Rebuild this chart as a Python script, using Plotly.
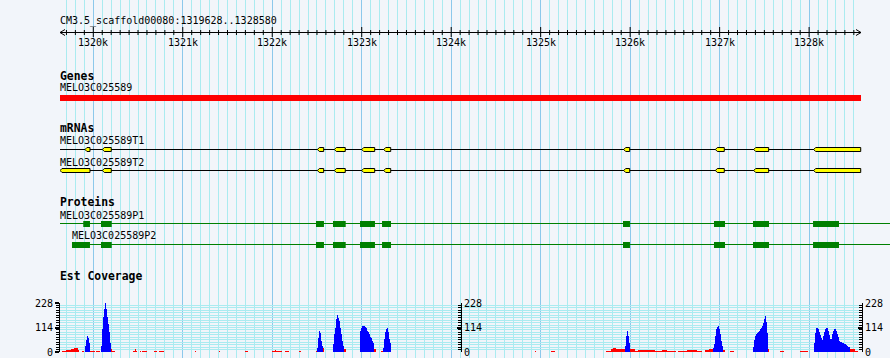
import plotly.graph_objects as go

# ---------------- data (genomic coordinates, bp) ----------------
SEQ_NAME = "CM3.5_scaffold00080"
VIEW_START = 1319628
VIEW_END = 1328580

ruler_major = [1320000, 1321000, 1322000, 1323000, 1324000, 1325000, 1326000, 1327000, 1328000]
ruler_labels = ["1320k", "1321k", "1322k", "1323k", "1324k", "1325k", "1326k", "1327k", "1328k"]

gene_name = "MELO3C025589"
gene_start = 1319628
gene_end = 1328580

mrna_names = ["MELO3C025589T1", "MELO3C025589T2"]
mrna_starts = [1319628, 1319628]
mrna_ends = [1328580, 1328580]
t1_exon_starts = [1319907, 1320101, 1322504, 1322694, 1323000, 1323246, 1325928, 1326952, 1327381, 1328051]
t1_exon_ends = [1319963, 1320201, 1322575, 1322816, 1323145, 1323324, 1325995, 1327052, 1327548, 1328577]
t2_exon_starts = [1319628, 1320101, 1322504, 1322694, 1323000, 1323246, 1325928, 1326952, 1327381, 1328051]
t2_exon_ends = [1319963, 1320201, 1322575, 1322816, 1323145, 1323324, 1325995, 1327052, 1327548, 1328577]

protein_names = ["MELO3C025589P1", "MELO3C025589P2"]
protein_starts = [1319628, 1319762]
protein_ends = [1328904, 1328904]
p1_cds_starts = [1319888, 1320086, 1322489, 1322679, 1322981, 1323227, 1325920, 1326937, 1327373, 1328044]
p1_cds_ends = [1319963, 1320206, 1322578, 1322821, 1323148, 1323327, 1325998, 1327060, 1327552, 1328334]
p2_cds_starts = [1319762, 1320086, 1322489, 1322679, 1322981, 1323227, 1325920, 1326937, 1327373, 1328044]
p2_cds_ends = [1319963, 1320206, 1322578, 1322821, 1323148, 1323327, 1325998, 1327060, 1327552, 1328334]

# Est coverage
COV_MAX = 228
cov_ticks = [0, 114, 228]
COV_BIN = 11.18  # bp per coverage bin
cov_peak_starts = [1319907, 1320086, 1322500, 1322679, 1322981, 1323238,
                   1325942, 1326926, 1327373, 1328055]
cov_peak1 = [30, 55, 74, 65, 40]
cov_peak2 = [28, 107, 164, 200, 228, 198, 164, 130, 92, 40]
cov_peak3 = [20, 65, 98, 89, 51, 28]
cov_peak4 = [36, 82, 113, 152, 172, 159, 144, 113, 82, 51, 28]
cov_peak5 = [98, 112, 121, 121, 121, 116, 110, 100, 92, 85, 70, 66, 50, 43]
cov_peak6 = [20, 59, 91, 106, 110, 91, 59, 43]
cov_peak7 = [28, 74, 98, 74, 42]
cov_peak8 = [20, 36, 74, 106, 118, 121, 106, 82, 51, 28]
cov_peak9 = [23, 56, 74, 84, 88, 92, 99, 107, 114, 121, 137, 152, 168, 141, 90]
cov_peak10 = [40, 90, 110, 113, 108, 95, 80, 65, 56, 75, 95, 105, 110, 110, 100, 80, 62, 59,
              85, 100, 107, 107, 100, 85, 70, 52, 48, 45, 42, 40, 38, 35, 33, 30, 25, 22]
cov_peaks = [cov_peak1, cov_peak2, cov_peak3, cov_peak4, cov_peak5,
             cov_peak6, cov_peak7, cov_peak8, cov_peak9, cov_peak10]

red_starts = [1319650, 1319695, 1319751, 1319784, 1319829, 1319874, 1319963, 1320030, 1320187, 1320209,
              1320444, 1320466, 1320477, 1320522, 1320544, 1320679, 1320734, 1321137, 1321405, 1321696,
              1321997, 1322031, 1322042, 1322143, 1322299, 1322489, 1322556, 1322791, 1323137, 1323215,
              1324937, 1325115,
              1325730, 1325786, 1325808, 1325842, 1325887, 1325987, 1326054, 1326088, 1326278, 1326356,
              1326412, 1326535, 1326635, 1326747, 1326837, 1326881, 1327038, 1327116, 1327518, 1327675,
              1327898, 1328435, 1328513]
red_ends = [1319695, 1319751, 1319784, 1319829, 1319840, 1319896, 1320019, 1320075, 1320209, 1320243,
            1320466, 1320477, 1320489, 1320533, 1320600, 1320712, 1320790, 1321148, 1321416, 1321729,
            1322031, 1322042, 1322109, 1322187, 1322321, 1322511, 1322578, 1322824, 1323160, 1323238,
            1324948, 1325160,
            1325786, 1325808, 1325842, 1325887, 1325942, 1326054, 1326088, 1326278, 1326356, 1326412,
            1326512, 1326635, 1326747, 1326803, 1326881, 1326926, 1327060, 1327161, 1327552, 1327720,
            1327988, 1328513, 1328547]
red_values = [6, 9, 12, 17, 9, 5, 5, 6, 14, 5,
              6, 12, 6, 4, 4, 4, 4, 4, 3, 4,
              5, 9, 5, 4, 4, 4, 18, 12, 14, 4,
              3, 4,
              6, 12, 18, 14, 15, 12, 6, 10, 6, 10,
              7, 6, 8, 5, 9, 15, 8, 5, 14, 4,
              5, 14, 6]

# ---------------- layout constants (pixels) ----------------
W, H = 890, 358
LEFT_PX, RIGHT_PX = 60, 861
BP_PER_PX = (VIEW_END - VIEW_START) / (RIGHT_PX - LEFT_PX)
X_FULL_END = VIEW_START + (W - LEFT_PX) * BP_PER_PX

BG = "#F2F5FA"
GRID_MINOR = "#AAEBF0"
GRID_MAJOR = "#8CC8EB"
FONT = "DejaVu Sans Mono"

RULER_Y = 32.5
GENE_TOP, GENE_BOT = 95, 101
MRNA_Y = [149.5, 170.5]
PROT_Y = [223.5, 244.5]
COV_TOP_PX, COV_BOT_PX = 303, 352

fig = go.Figure()


def add(tr):
    tr.update(hoverinfo="skip", showlegend=False)
    fig.add_trace(tr)


# ---- ruler ----
add(go.Scatter(x=[VIEW_START, VIEW_END], y=[RULER_Y, RULER_Y], mode="lines",
               line=dict(color="black", width=1), xaxis="x", yaxis="y"))
arm = 5 * BP_PER_PX
add(go.Scatter(x=[VIEW_START + arm, VIEW_START, VIEW_START + arm, None,
                  VIEW_END - arm, VIEW_END, VIEW_END - arm],
               y=[RULER_Y - 3, RULER_Y, RULER_Y + 3, None, RULER_Y - 3, RULER_Y, RULER_Y + 3],
               mode="lines", line=dict(color="black", width=1), xaxis="x", yaxis="y"))
minor_pos = [p for p in range(1319700, VIEW_END, 100) if p not in ruler_major]
tx, ty = [], []
for p in minor_pos:
    tx += [p, p, None]
    ty += [30, 35, None]
for p in ruler_major:
    tx += [p, p, None]
    ty += [27, 37, None]
add(go.Scatter(x=tx, y=ty, mode="lines", line=dict(color="black", width=1), xaxis="x", yaxis="y"))

# ---- gene ----
add(go.Scatter(x=[gene_start, gene_end, gene_end, gene_start, gene_start],
               y=[GENE_TOP, GENE_TOP, GENE_BOT, GENE_BOT, GENE_TOP], mode="lines",
               fill="toself", fillcolor="#FF0000", line=dict(width=0, color="#FF0000"),
               xaxis="x", yaxis="y"))

# ---- mRNAs ----
tip = 2 * BP_PER_PX
for i, (starts, ends) in enumerate([(t1_exon_starts, t1_exon_ends), (t2_exon_starts, t2_exon_ends)]):
    yc = MRNA_Y[i]
    add(go.Scatter(x=[mrna_starts[i], mrna_ends[i]], y=[yc, yc], mode="lines",
                   line=dict(color="black", width=1), xaxis="x", yaxis="y"))
    xs, ys = [], []
    for s, e in zip(starts, ends):
        xs += [s, s + tip, e, e, s + tip, s, None]
        ys += [yc, yc - 2, yc - 2, yc + 2, yc + 2, yc, None]
    add(go.Scatter(x=xs, y=ys, mode="lines", fill="toself", fillcolor="#FFFF00",
                   line=dict(color="black", width=1), xaxis="x", yaxis="y"))

# ---- proteins ----
for i, (starts, ends) in enumerate([(p1_cds_starts, p1_cds_ends), (p2_cds_starts, p2_cds_ends)]):
    yc = PROT_Y[i]
    add(go.Scatter(x=[protein_starts[i], protein_ends[i]], y=[yc, yc], mode="lines",
                   line=dict(color="#008000", width=1), xaxis="x", yaxis="y"))
    xs, ys = [], []
    for s, e in zip(starts, ends):
        xs += [s, e, e, s, s, None]
        ys += [yc - 2.5, yc - 2.5, yc + 3.5, yc + 3.5, yc - 2.5, None]
    add(go.Scatter(x=xs, y=ys, mode="lines", fill="toself", fillcolor="#008000",
                   line=dict(color="#008000", width=0), xaxis="x", yaxis="y"))

# ---- coverage ----
add(go.Bar(x=[(s + e) / 2 for s, e in zip(red_starts, red_ends)], y=red_values,
           width=[e - s for s, e in zip(red_starts, red_ends)],
           marker=dict(color="#FF0000", line=dict(width=0)), xaxis="x2", yaxis="y2"))
bx, by = [], []
for start, vals in zip(cov_peak_starts, cov_peaks):
    for k, v in enumerate(vals):
        bx.append(start + (k + 0.5) * COV_BIN)
        by.append(v)
add(go.Bar(x=bx, y=by, width=COV_BIN, marker=dict(color="#0000FF", line=dict(width=0)),
           xaxis="x2", yaxis="y2"))
# carriers for the extra scale axes
add(go.Scatter(x=[VIEW_START], y=[0], mode="markers", marker=dict(opacity=0), xaxis="x2", yaxis="y3"))
add(go.Scatter(x=[VIEW_START], y=[0], mode="markers", marker=dict(opacity=0), xaxis="x2", yaxis="y4"))

# ---------------- annotations ----------------
ann = []


def label(text, x, y, size=10, bold=False, xref="paper", xanchor="left"):
    ann.append(dict(text=f"<b>{text}</b>" if bold else text, x=x, y=y, xref=xref, yref="y",
                    xanchor=xanchor, yanchor="middle", showarrow=False, borderpad=0,
                    xshift=-1 if xanchor == "left" else 0,
                    font=dict(family=FONT, size=size, color="black")))


lx = LEFT_PX / W
label(f"{SEQ_NAME}:{VIEW_START}..{VIEW_END}", lx, 21)
for p, t in zip(ruler_major, ruler_labels):
    label(t, p, 42.5, xref="x", xanchor="center")
label("Genes", lx, 76, size=11.4, bold=True)
label(gene_name, lx, 87.5)
label("mRNAs", lx, 127.5, size=11.4, bold=True)
label(mrna_names[0], lx, 140.5)
label(mrna_names[1], lx, 162)
label("Proteins", lx, 201.7, size=11.4, bold=True)
label(protein_names[0], lx, 215)
label(protein_names[1], protein_starts[1], 235.5, xref="x")
label("Est Coverage", lx, 276, size=11.4, bold=True)

cov_dom = [1 - COV_BOT_PX / H, 1 - COV_TOP_PX / H]
minor_y = dict(dtick=COV_MAX / 20, tick0=0, ticks="outside", ticklen=3, tickwidth=1,
               tickcolor="black", showgrid=False)
axis_common = dict(range=[0, COV_MAX], domain=cov_dom, tickmode="array", tickvals=cov_ticks,
                   ticktext=[str(v) for v in cov_ticks], ticklen=4, tickwidth=2, tickcolor="black",
                   showline=True, linecolor="black", linewidth=1, zeroline=False, fixedrange=True,
                   automargin=False, tickfont=dict(family=FONT, size=10, color="black"))

fig.update_layout(
    width=W, height=H, margin=dict(l=0, r=0, t=0, b=0, pad=0, autoexpand=False),
    paper_bgcolor=BG, plot_bgcolor="rgba(0,0,0,0)",
    barmode="overlay", bargap=0, showlegend=False,
    annotations=ann,
    xaxis=dict(domain=[LEFT_PX / W, 1], range=[VIEW_START, X_FULL_END],
               tickmode="array", tickvals=ruler_major, showticklabels=False, ticks="",
               showgrid=True, gridcolor=GRID_MAJOR, gridwidth=1, zeroline=False, showline=False,
               minor=dict(tickmode="array", tickvals=minor_pos, showgrid=True,
                          gridcolor=GRID_MINOR, gridwidth=1, ticks=""),
               automargin=False, fixedrange=True),
    yaxis=dict(domain=[0, 1], range=[H, 0], visible=False, fixedrange=True, automargin=False),
    xaxis2=dict(domain=[LEFT_PX / W, RIGHT_PX / W], range=[VIEW_START, VIEW_END], anchor="y2",
                visible=False, fixedrange=True, automargin=False),
    yaxis2=dict(anchor="x2", side="left", ticks="outside", showgrid=True, gridcolor=GRID_MINOR,
                minor=dict(minor_y, showgrid=True, gridcolor=GRID_MINOR), **axis_common),
    yaxis3=dict(overlaying="y2", anchor="free", position=461 / W, side="right", ticks="inside",
                showgrid=False, minor=dict(minor_y, ticks="inside"), **axis_common),
    yaxis4=dict(overlaying="y2", anchor="free", position=862 / W, side="right", ticks="inside",
                showgrid=False, minor=dict(minor_y, ticks="inside"), **axis_common),
)

fig.write_html("out.html", config={"displayModeBar": False, "staticPlot": True},
               post_script="document.body.style.margin='0';document.body.style.padding='0';"
                           "document.body.style.background='" + BG + "';")
